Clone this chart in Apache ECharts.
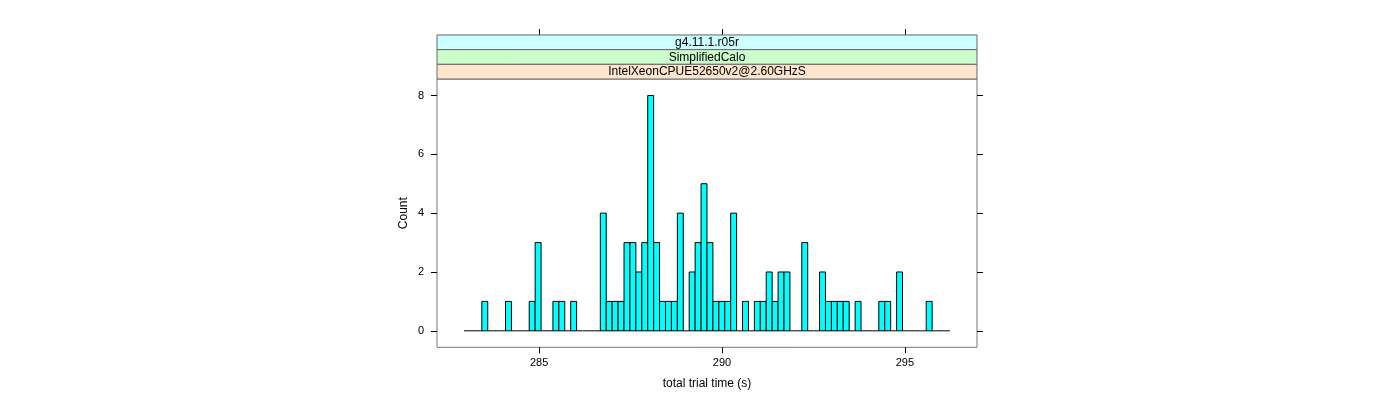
<!DOCTYPE html>
<html><head><meta charset="utf-8">
<script src="https://cdn.jsdelivr.net/npm/echarts@6/dist/echarts.min.js"></script>
<style>html,body{margin:0;padding:0;background:#fff}#c{width:1400px;height:400px}</style>
</head><body><div id="c"></div>
<script>
// ---- data ----
const binStart = 282.949;
const binWidth = 0.16196;
const counts = [0,0,0,1,0,0,0,1,0,0,0,1,3,0,0,1,1,0,1,0,0,0,0,4,1,1,1,3,3,2,3,8,3,1,1,1,4,0,2,3,5,3,1,1,1,4,0,1,0,1,1,2,1,2,2,0,0,3,0,0,2,1,1,1,1,0,1,0,0,0,1,1,0,2,0,0,0,0,1,0,0,0];
const xTicks = [285, 290, 295];
const yTicks = [0, 2, 4, 6, 8];
const strips = ['g4.11.1.r05r', 'SimplifiedCalo', 'IntelXeonCPUE52650v2@2.60GHzS'];
const stripColors = ['#ccffff', '#ccffcc', '#ffe5cc'];
const xTitle = 'total trial time (s)';
const yTitle = 'Count';

// ---- chart ----
const FONT = '"Liberation Sans", Arial, Helvetica, sans-serif';
const L = 437, R = 977, T = 79, B = 347.3, STRIP_H = 14.67;
const chart = echarts.init(document.getElementById('c'), null, {renderer: 'canvas'});
const histData = counts.map((c, i) => [binStart + i * binWidth, binStart + (i + 1) * binWidth, c]);

const graphics = [];
strips.forEach((s, k) => {
  const y = T - STRIP_H * (strips.length - k);
  graphics.push({type: 'rect', shape: {x: L, y: y, width: R - L, height: STRIP_H},
    style: {fill: stripColors[k], stroke: '#666', lineWidth: 1}, z: 10});
  graphics.push({type: 'text', x: (L + R) / 2, y: y + STRIP_H / 2 + 0.5,
    style: {text: s, font: '12px ' + FONT, fill: '#000', textAlign: 'center', textVerticalAlign: 'middle'}, z: 11});
});

const tickStyle = {show: true, length: 6, inside: false, lineStyle: {color: '#000', width: 1}};
const noLine = {show: false, onZero: false};
chart.setOption({
  animation: false,
  backgroundColor: '#fff',
  grid: {left: L, right: 1400 - R, top: T, bottom: 400 - B, show: true, borderColor: '#777', borderWidth: 1, backgroundColor: 'transparent'},
  graphic: graphics,
  xAxis: [
    {type: 'value', min: 282.21, max: 296.97, position: 'bottom',
     axisLine: noLine, splitLine: {show: false},
     axisTick: Object.assign({customValues: xTicks}, tickStyle),
     axisLabel: {customValues: xTicks, fontSize: 11, color: '#000', margin: 10, fontFamily: FONT},
     name: xTitle, nameLocation: 'middle', nameGap: 30,
     nameTextStyle: {fontSize: 12, color: '#000', fontFamily: FONT}},
    {type: 'value', min: 282.21, max: 296.97, position: 'top', offset: STRIP_H * 3,
     axisLine: noLine, splitLine: {show: false},
     axisTick: Object.assign({customValues: xTicks}, tickStyle),
     axisLabel: {show: false}}
  ],
  yAxis: [
    {type: 'value', min: -0.56, max: 8.56, position: 'left',
     axisLine: noLine, splitLine: {show: false},
     axisTick: Object.assign({customValues: yTicks}, tickStyle),
     axisLabel: {customValues: yTicks, fontSize: 11, color: '#000', margin: 13, fontFamily: FONT},
     name: yTitle, nameLocation: 'middle', nameGap: 27,
     nameTextStyle: {fontSize: 12, color: '#000', fontFamily: FONT}},
    {type: 'value', min: -0.56, max: 8.56, position: 'right',
     axisLine: noLine, splitLine: {show: false},
     axisTick: Object.assign({customValues: yTicks}, tickStyle),
     axisLabel: {show: false}}
  ],
  series: [{
    type: 'custom',
    xAxisIndex: 0, yAxisIndex: 0,
    data: histData,
    encode: {x: [0, 1], y: 2},
    clip: false,
    renderItem: function (params, api) {
      const x0 = api.value(0), x1 = api.value(1), c = api.value(2);
      const p0 = api.coord([x0, c]);
      const p1 = api.coord([x1, 0]);
      if (c === 0) {
        return {type: 'line', shape: {x1: p0[0], y1: p1[1], x2: p1[0], y2: p1[1]},
          style: {stroke: '#000', lineWidth: 1}};
      }
      return {type: 'rect', shape: {x: p0[0], y: p0[1], width: p1[0] - p0[0], height: p1[1] - p0[1]},
        style: {fill: '#00ffff', stroke: '#000', lineWidth: 1}};
    }
  }]
});
</script>
</body></html>
